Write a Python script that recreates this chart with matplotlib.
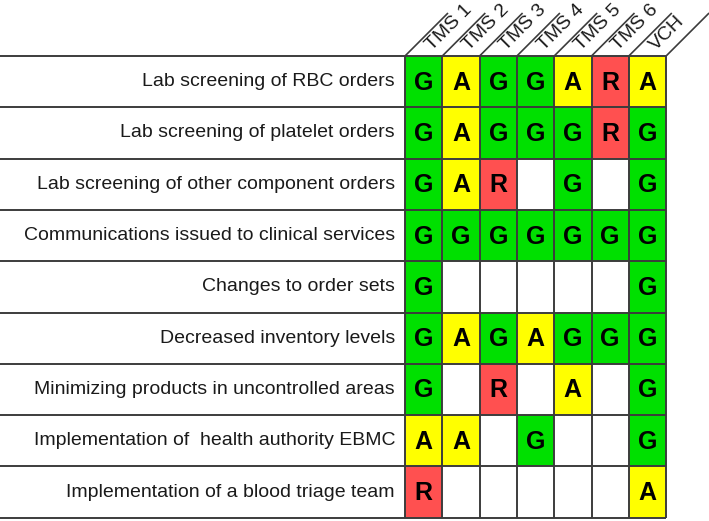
import matplotlib
matplotlib.use("Agg")
import matplotlib.pyplot as plt
from matplotlib.patches import Rectangle
import numpy as np

# ---- data ----
row_labels = [
    "Lab screening of RBC orders",
    "Lab screening of platelet orders",
    "Lab screening of other component orders",
    "Communications issued to clinical services",
    "Changes to order sets",
    "Decreased inventory levels",
    "Minimizing products in uncontrolled areas",
    "Implementation of  health authority EBMC",
    "Implementation of a blood triage team",
]
col_labels = ["TMS 1", "TMS 2", "TMS 3", "TMS 4", "TMS 5", "TMS 6", "VCH"]
ratings = [
    ["G", "A", "G", "G", "A", "R", "A"],
    ["G", "A", "G", "G", "G", "R", "G"],
    ["G", "A", "R", "",  "G", "",  "G"],
    ["G", "G", "G", "G", "G", "G", "G"],
    ["G", "",  "",  "",  "",  "",  "G"],
    ["G", "A", "G", "A", "G", "G", "G"],
    ["G", "",  "R", "",  "A", "",  "G"],
    ["A", "A", "",  "G", "",  "",  "G"],
    ["R", "",  "",  "",  "",  "",  "A"],
]
colors = {"G": "#00E000", "A": "#FFFF00", "R": "#FF5050", "": "white"}

# ---- layout (figure pixel units) ----
W, H = 709, 521
x0, cw = 405.0, 37.3
y0, rh = 56.0, 51.3
ncol, nrow = len(col_labels), len(row_labels)
line_col = "#3c3c3c"

fig = plt.figure(figsize=(W / 100, H / 100), dpi=100)
ax = fig.add_axes([0, 0, 1, 1])
ax.set_xlim(0, W)
ax.set_ylim(H, 0)
ax.axis("off")

xr = x0 + cw * ncol
yb = y0 + rh * nrow

# cells
for i, row in enumerate(ratings):
    for j, v in enumerate(row):
        ax.add_patch(Rectangle((x0 + j * cw, y0 + i * rh), cw, rh,
                               facecolor=colors[v], edgecolor="none", zorder=1))
        if v:
            ax.text(x0 + (j + 0.5) * cw, y0 + (i + 0.5) * rh + 1, v,
                    ha="center", va="center", fontsize=18, fontweight="bold",
                    family="Liberation Sans", color="black", zorder=3)

# horizontal lines
for i in range(nrow + 1):
    y = y0 + i * rh
    ax.plot([0, xr], [y, y], color=line_col, lw=1.4, zorder=2,
            solid_capstyle="butt")
# vertical lines
for j in range(ncol + 1):
    x = x0 + j * cw
    ax.plot([x, x], [y0, yb], color=line_col, lw=1.4, zorder=2,
            solid_capstyle="butt")
# diagonal header lines
L = 43
for j in range(ncol + 1):
    x = x0 + j * cw
    ax.plot([x, x + L], [y0, y0 - L], color=line_col, lw=1.2, zorder=2,
            solid_capstyle="butt")

# row labels
for i, lab in enumerate(row_labels):
    ax.text(x0 - 10, y0 + (i + 0.5) * rh, lab, ha="right", va="center",
            fontsize=14, family="Liberation Sans", color="#1a1a1a")

# column labels (rotated 45 degrees)
d = 9.0
shift = 1.5
for j, lab in enumerate(col_labels):
    bx = x0 + (j + 0.5) * cw + d / np.sqrt(2) - shift
    by = y0 - d / np.sqrt(2) - shift
    ax.text(bx, by, lab, rotation=45, rotation_mode="anchor",
            ha="left", va="center", fontsize=14, family="Liberation Sans",
            color="#1a1a1a")

fig.savefig("out.png", dpi=100)
